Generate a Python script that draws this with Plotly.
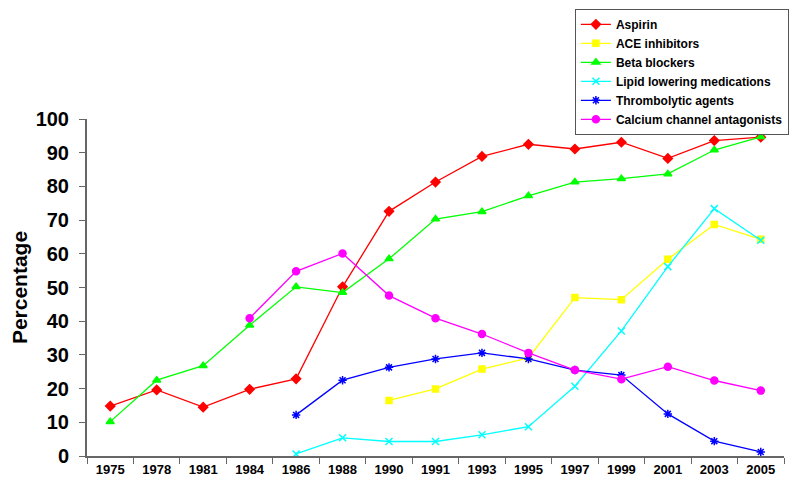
import plotly.graph_objects as go

years = ["1975", "1978", "1981", "1984", "1986", "1988", "1990", "1991",
         "1993", "1995", "1997", "1999", "2001", "2003", "2005"]

aspirin = [14.8, 19.6, 14.5, 19.8, 22.9, 50.2, 72.6, 81.3, 88.9, 92.5, 91.1, 93.1, 88.3, 93.6, 94.6]
ace = [None, None, None, None, None, None, 16.5, 19.9, 25.8, 29.1, 47.0, 46.4, 58.4, 68.7, 64.3]
beta = [10.2, 22.5, 26.8, 38.8, 50.2, 48.5, 58.5, 70.3, 72.5, 77.2, 81.3, 82.3, 83.7, 90.8, 94.7]
lipid = [None, None, None, None, 0.6, 5.4, 4.3, 4.3, 6.3, 8.7, 20.7, 37.1, 56.2, 73.4, 64.0]
thrombo = [None, None, None, None, 12.2, 22.5, 26.3, 28.8, 30.6, 28.8, 25.5, 24.0, 12.5, 4.4, 1.2]
calcium = [None, None, None, 40.9, 54.8, 60.1, 47.6, 40.9, 36.2, 30.6, 25.5, 22.8, 26.5, 22.4, 19.4]

series = [
    ("Aspirin", aspirin, "#FF0000", "diamond", 7),
    ("ACE inhibitors", ace, "#FFFF00", "square", 6),
    ("Beta blockers", beta, "#00FF00", "triangle-up", 7),
    ("Lipid lowering medications", lipid, "#00FFFF", "x-thin-open", 7),
    ("Thrombolytic agents", thrombo, "#0000FF", "asterisk-open", 7),
    ("Calcium channel antagonists", calcium, "#FF00FF", "circle", 7),
]

fig = go.Figure()
for name, vals, color, sym, size in series:
    fig.add_trace(go.Scatter(
        x=years, y=vals, name=name, mode="lines+markers",
        line=dict(color=color, width=1.3),
        marker=dict(symbol=sym, size=size, color=color,
                    line=dict(color=color, width=1.5)),
        connectgaps=False,
    ))

fig.update_layout(
    width=797, height=488,
    margin=dict(l=79, r=21, t=111, b=40, autoexpand=False),
    paper_bgcolor="white", plot_bgcolor="white",
    font=dict(family="Arial, Liberation Sans, sans-serif", color="black"),
    showlegend=True,
    legend=dict(
        x=0.70, y=1.327, xanchor="left", yanchor="top",
        bgcolor="white", bordercolor="#555555", borderwidth=1,
        font=dict(size=12, family="Arial, Liberation Sans, sans-serif", weight="bold"),
        tracegroupgap=0, itemwidth=30,
    ),
)

fig.update_xaxes(
    type="category", categoryorder="array", categoryarray=years,
    range=[-0.5, len(years) - 0.5],
    tickson="boundaries", ticks="outside", ticklen=6, tickcolor="#666666",
    showline=True, linecolor="#666666", linewidth=2, showgrid=False,
    tickfont=dict(size=13, weight="bold"), zeroline=False,
)
fig.update_yaxes(
    range=[0, 100], dtick=10, ticks="outside", ticklen=6, tickcolor="#666666",
    showline=True, linecolor="#666666", linewidth=2, showgrid=False,
    tickfont=dict(size=20, weight="bold"), zeroline=False, ticklabelstandoff=6,
    title=dict(text="Percentage", font=dict(size=21, weight="bold"), standoff=14),
)

fig.write_html("out.html")
